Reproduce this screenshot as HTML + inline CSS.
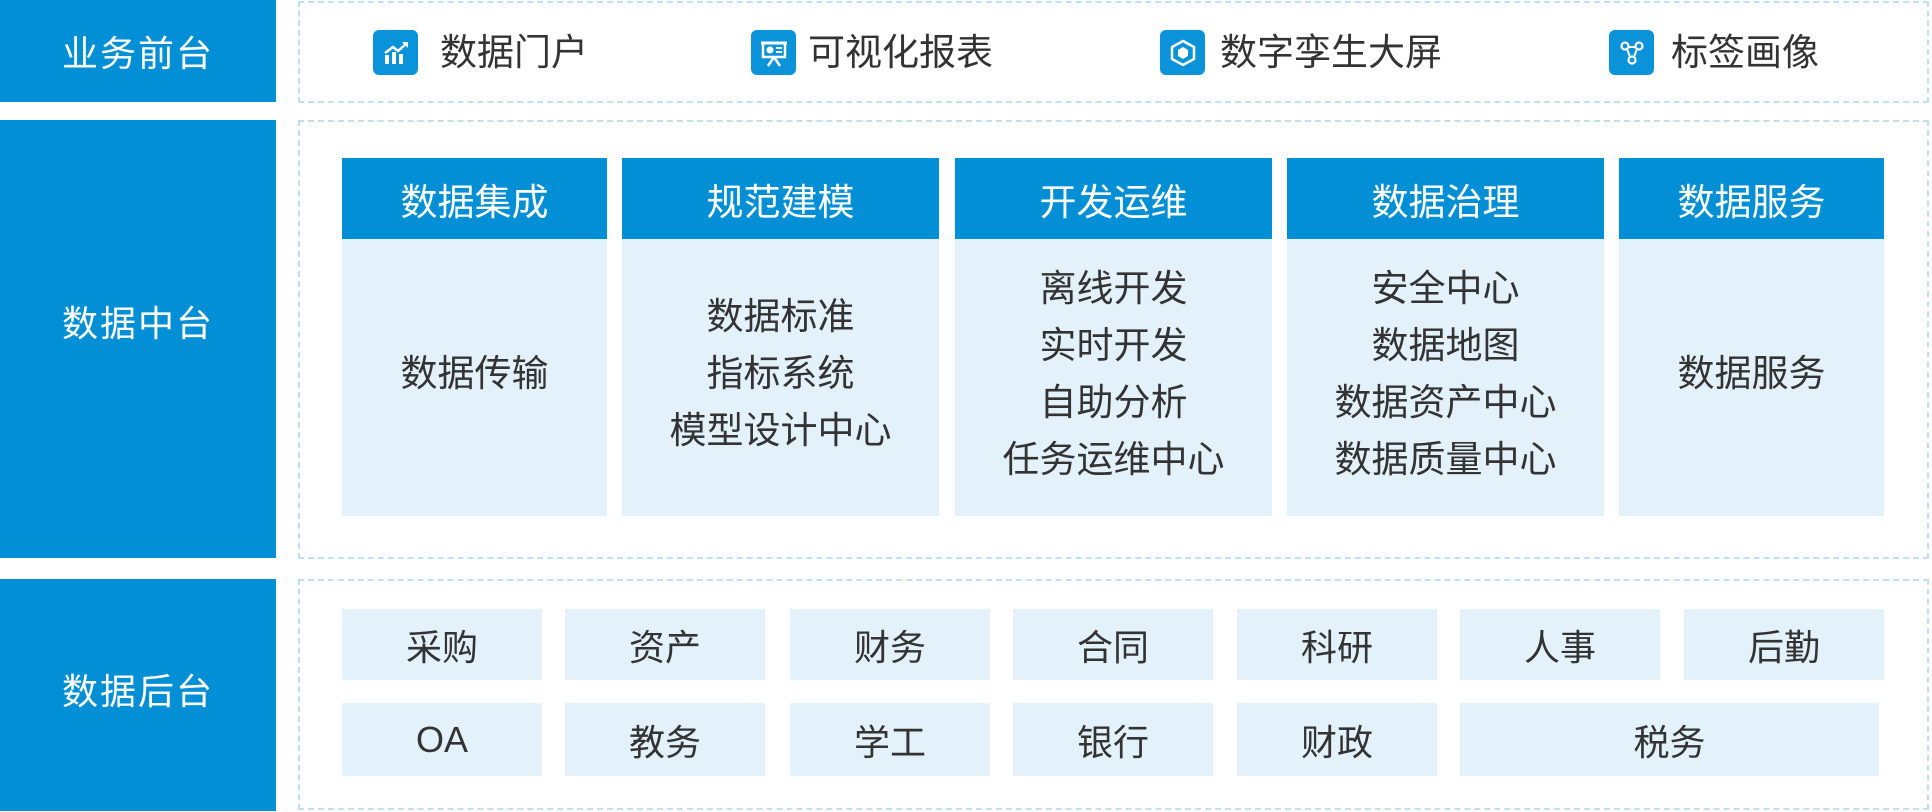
<!DOCTYPE html>
<html><head><meta charset="utf-8"><style>
*{margin:0;padding:0;box-sizing:border-box}
body{width:1932px;height:812px;background:#fff;position:relative;overflow:hidden;font-family:"Liberation Sans","Noto Sans CJK SC",sans-serif;color:#333}
.a{position:absolute}
.lb{background:#038fd6;color:#fff;font-size:36px;display:flex;align-items:center;justify-content:center;letter-spacing:2px}
.dash{border:2px dashed #bfe0f0}
.ic{width:45px;height:45px;background:#0a93d8;border-radius:6px;display:flex;align-items:center;justify-content:center}
.ft{font-size:37px;color:#333;line-height:45px}
.hd{background:#038fd6;color:#fff;font-size:37px;display:flex;align-items:center;justify-content:center}
.bd{background:#e2f1fa;font-size:37px;display:flex;flex-direction:column;align-items:center;justify-content:center;line-height:57px;text-align:center;padding-bottom:8px}
.c{background:#e2f1fa;font-size:36px;display:flex;align-items:center;justify-content:center}
</style></head><body>
<div class="a lb" style="left:0;top:0;width:276px;height:102px">业务前台</div>
<div class="a lb" style="left:0;top:120px;width:276px;height:438px;padding-bottom:36px">数据中台</div>
<div class="a lb" style="left:0;top:579px;width:276px;height:232px;padding-bottom:12px">数据后台</div>

<div class="a dash" style="left:298px;top:1px;width:1631px;height:102px"></div>
<div class="a dash" style="left:298px;top:120px;width:1631px;height:439px"></div>
<div class="a dash" style="left:298px;top:579px;width:1631px;height:231px"></div>

<div class="a ic" style="left:373px;top:30px"><svg width="28" height="24" viewBox="0 0 28 24"><rect x="3" y="14" width="4" height="9" fill="#fff"/><rect x="10" y="11" width="4" height="12" fill="#fff"/><rect x="17" y="13" width="4" height="10" fill="#fff"/><polyline points="3,12 11,6 16,10 25,2" stroke="#fff" stroke-width="2.5" fill="none"/><polygon points="20,1 26,1 26,7" fill="#fff"/></svg></div>
<div class="a ft" style="left:440px;top:30px">数据门户</div>
<div class="a ic" style="left:751px;top:30px"><svg width="30" height="30" viewBox="0 0 30 30"><rect x="4" y="5" width="22" height="14" fill="none" stroke="#fff" stroke-width="2.5"/><line x1="2" y1="5" x2="28" y2="5" stroke="#fff" stroke-width="3"/><circle cx="11" cy="12" r="3.5" fill="#fff"/><line x1="17" y1="10" x2="23" y2="10" stroke="#fff" stroke-width="2"/><line x1="17" y1="14" x2="23" y2="14" stroke="#fff" stroke-width="2"/><line x1="15" y1="19" x2="9" y2="28" stroke="#fff" stroke-width="2.5"/><line x1="15" y1="19" x2="21" y2="28" stroke="#fff" stroke-width="2.5"/></svg></div>
<div class="a ft" style="left:808px;top:30px">可视化报表</div>
<div class="a ic" style="left:1160px;top:30px"><svg width="30" height="30" viewBox="0 0 30 30"><polygon points="15,3 26,9 26,21 15,27 4,21 4,9" fill="none" stroke="#fff" stroke-width="2.5"/><polygon points="15,9 20,12 20,18 15,21 10,18 10,12" fill="#fff"/></svg></div>
<div class="a ft" style="left:1220px;top:30px">数字孪生大屏</div>
<div class="a ic" style="left:1609px;top:30px"><svg width="28" height="28" viewBox="0 0 28 28"><circle cx="7" cy="7" r="3.5" fill="none" stroke="#fff" stroke-width="2.2"/><circle cx="21" cy="7" r="3.5" fill="none" stroke="#fff" stroke-width="2.2"/><circle cx="14" cy="21" r="3.5" fill="none" stroke="#fff" stroke-width="2.2"/><line x1="10" y1="8" x2="18" y2="8" stroke="#fff" stroke-width="2"/><line x1="9" y1="10" x2="12" y2="18" stroke="#fff" stroke-width="2"/><line x1="19" y1="10" x2="16" y2="18" stroke="#fff" stroke-width="2"/></svg></div>
<div class="a ft" style="left:1671px;top:30px">标签画像</div>

<div class="a hd" style="left:342px;top:158px;width:265px;height:81px">数据集成</div>
<div class="a bd" style="left:342px;top:239px;width:265px;height:277px">数据传输</div>
<div class="a hd" style="left:622px;top:158px;width:317px;height:81px">规范建模</div>
<div class="a bd" style="left:622px;top:239px;width:317px;height:277px"><div>数据标准</div><div>指标系统</div><div>模型设计中心</div></div>
<div class="a hd" style="left:955px;top:158px;width:317px;height:81px">开发运维</div>
<div class="a bd" style="left:955px;top:239px;width:317px;height:277px"><div>离线开发</div><div>实时开发</div><div>自助分析</div><div>任务运维中心</div></div>
<div class="a hd" style="left:1287px;top:158px;width:317px;height:81px">数据治理</div>
<div class="a bd" style="left:1287px;top:239px;width:317px;height:277px"><div>安全中心</div><div>数据地图</div><div>数据资产中心</div><div>数据质量中心</div></div>
<div class="a hd" style="left:1619px;top:158px;width:265px;height:81px">数据服务</div>
<div class="a bd" style="left:1619px;top:239px;width:265px;height:277px">数据服务</div>

<div class="a c" style="left:342px;top:609px;width:200px;height:71px">采购</div>
<div class="a c" style="left:565px;top:609px;width:200px;height:71px">资产</div>
<div class="a c" style="left:790px;top:609px;width:200px;height:71px">财务</div>
<div class="a c" style="left:1013px;top:609px;width:200px;height:71px">合同</div>
<div class="a c" style="left:1237px;top:609px;width:200px;height:71px">科研</div>
<div class="a c" style="left:1460px;top:609px;width:200px;height:71px">人事</div>
<div class="a c" style="left:1684px;top:609px;width:200px;height:71px">后勤</div>
<div class="a c" style="left:342px;top:703px;width:200px;height:73px">OA</div>
<div class="a c" style="left:565px;top:703px;width:200px;height:73px">教务</div>
<div class="a c" style="left:790px;top:703px;width:200px;height:73px">学工</div>
<div class="a c" style="left:1013px;top:703px;width:200px;height:73px">银行</div>
<div class="a c" style="left:1237px;top:703px;width:200px;height:73px">财政</div>
<div class="a c" style="left:1460px;top:703px;width:419px;height:73px">税务</div>
</body></html>
